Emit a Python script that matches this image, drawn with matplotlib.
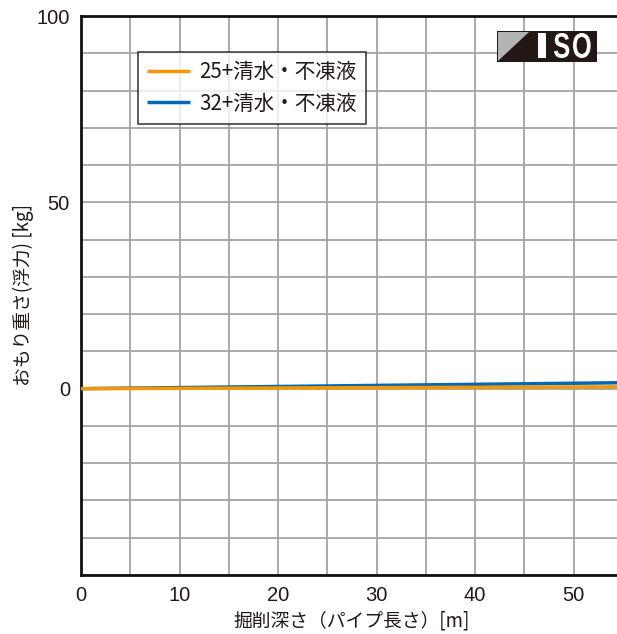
import matplotlib
matplotlib.use("Agg")
import matplotlib.pyplot as plt
from matplotlib.patches import Rectangle, Polygon, PathPatch
from matplotlib.textpath import TextPath
from matplotlib.font_manager import FontProperties
from matplotlib.transforms import Affine2D
from matplotlib import font_manager as fm

names = {f.name for f in fm.fontManager.ttflist}
num_font = "Liberation Sans Narrow" if "Liberation Sans Narrow" in names else "Liberation Sans"
plt.rcParams['font.family'] = [num_font, 'Noto Sans CJK JP', 'DejaVu Sans']

# data
depth = [0, 55]
w25 = [0.0, 0.5]
w32 = [0.0, 1.6]
series_labels = ["25+清水・不凍液", "32+清水・不凍液"]
series_colors = ["#f39800", "#0068b7"]
xticks = [0, 10, 20, 30, 40, 50]
yticks = [0, 50, 100]
xlabel = "掘削深さ（パイプ長さ）[m]"
ylabel = "おもり重さ(浮力) [kg]"
logo_text = "ISO"

W, H = 617, 634
fig = plt.figure(figsize=(W / 100, H / 100), dpi=100)
left, right, top, bottom = 81, 623, 16, 575
ax = fig.add_axes([left / W, 1 - bottom / H, (right - left) / W, (bottom - top) / H])
ax.set_xlim(0, 55)
ax.set_ylim(-50, 100)

ax.set_xticks(range(0, 56, 5), minor=True)
ax.set_yticks(range(-50, 101, 10), minor=True)
ax.set_xticks(xticks)
ax.set_yticks(yticks)
ax.grid(True, which='both', color='#a4a4a4', lw=1.3)
ax.set_axisbelow(True)
ax.tick_params(which='both', length=0, labelsize=14.5, colors='#231815', pad=8)
for s in ['top', 'left', 'bottom']:
    ax.spines[s].set_linewidth(2)
    ax.spines[s].set_color('#111111')
ax.spines['right'].set_visible(False)

for i, (y, lab, c) in enumerate(zip([w25, w32], series_labels, series_colors)):
    ax.plot(depth, y, color=c, lw=2.5, label=lab, solid_capstyle='butt', zorder=4 - i)

leg = ax.legend(loc='upper left', bbox_to_anchor=((138 - left) / (right - left), 1 - (52 - top) / (bottom - top)),
                frameon=True, fancybox=False, edgecolor='#111111',
                borderpad=0.45, borderaxespad=0, handlelength=2.1, handletextpad=0.45, labelspacing=0.45,
                prop={'family': ['Noto Sans CJK JP'], 'size': 14.8})
leg.get_frame().set_linewidth(1.2)
for t in leg.get_texts():
    t.set_color('#231815')
for t in ax.get_xticklabels() + ax.get_yticklabels():
    t.set_color('#231815')

ax.set_xlabel(xlabel, fontsize=13.5, family=['Noto Sans CJK JP'], color='#231815', labelpad=4)
ax.set_ylabel(ylabel, fontsize=13.5, family=['Noto Sans CJK JP'], color='#231815', labelpad=2)

# ISO logo (figure pixel coords)
def fx(x):
    return x / W
def fy(y):
    return 1 - y / H
x0, x1, y0, y1 = 497, 597, 31, 62
fig.patches.append(Rectangle((fx(x0), fy(y1)), fx(x1) - fx(x0), fy(y0) - fy(y1),
                             transform=fig.transFigure, facecolor='#231815', edgecolor='none', zorder=5))
fig.patches.append(Polygon([(fx(x0 + 1), fy(y0 + 1)), (fx(529), fy(y0 + 1)), (fx(x0 + 1), fy(y1 - 1))],
                           closed=True, transform=fig.transFigure, facecolor='#b4b4b4', edgecolor='none', zorder=6))
fp = FontProperties(family='Liberation Sans', weight='bold')
letter_x = [538, 554, 573]  # left pixel positions
pix = Affine2D().scale(1.0 / W, 1.0 / H) + fig.transFigure
for ch, lx in zip(logo_text, letter_x):
    tp = TextPath((0, 0), ch, size=34, prop=fp)
    ext = tp.get_extents()
    sy = 25.0 / ext.height
    sx = sy * (1.6 if ch == "I" else 0.72)
    tr = Affine2D().translate(-ext.x0, -ext.y0).scale(sx, sy).translate(lx, H - 58)
    path = tr.transform_path(tp)
    patch = PathPatch(path, facecolor='white', edgecolor='none', zorder=7)
    patch.set_transform(pix)
    fig.patches.append(patch)

fig.savefig("out.png", dpi=100)
